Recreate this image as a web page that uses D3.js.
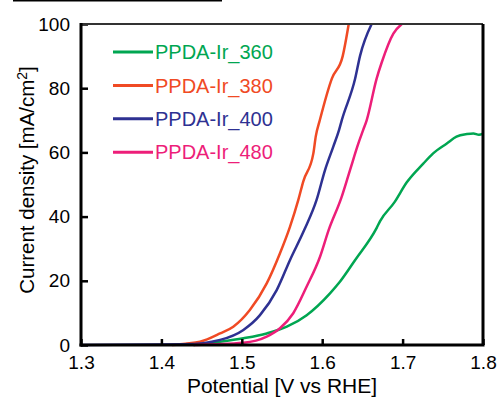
<!DOCTYPE html>
<html>
<head>
<meta charset="utf-8">
<script src="https://cdn.jsdelivr.net/npm/d3@7"></script>
<style>
  body { margin: 0; background: #fff; }
  svg text { font-family: Arial, "Liberation Sans", sans-serif; }
</style>
</head>
<body>
<div id="chart"></div>
<script>
// potential [V vs RHE] and current density [mA/cm2]
const v360 = [1.44, 1.473, 1.502, 1.531, 1.556, 1.5807, 1.6097, 1.622, 1.641, 1.6678, 1.672, 1.69, 1.705, 1.7257, 1.738, 1.755, 1.767, 1.78, 1.788, 1.795, 1.80];
const j360 = [0, 1.0, 2.1, 3.6, 5.7, 9.3, 16.1, 19.7, 26.5, 36.5, 38.6, 44.5, 50.6, 56.5, 59.7, 62.8, 64.9, 65.7, 65.9, 65.5, 65.8];

const v380 = [1.413, 1.43, 1.448, 1.473, 1.4894, 1.51, 1.531, 1.5475, 1.56, 1.5703, 1.5765, 1.589, 1.592, 1.597, 1.612, 1.6255, 1.633];
const j380 = [0, 0.4, 1.0, 3.6, 5.7, 10.9, 19.2, 28.6, 36.9, 45.2, 51, 59.7, 65, 70, 83, 90, 100];

const v400 = [1.30, 1.43, 1.473, 1.502, 1.5226, 1.5434, 1.56, 1.5776, 1.593, 1.6035, 1.6138, 1.621, 1.6243, 1.641, 1.647, 1.6615];
const j400 = [0, 0.2, 1.6, 4.7, 9.3, 17.1, 26.5, 35.8, 45.2, 54.5, 61.8, 67, 70, 83, 90, 100];

const v480 = [1.44, 1.502, 1.531, 1.5475, 1.564, 1.5807, 1.5973, 1.608, 1.624, 1.6346, 1.645, 1.651, 1.6553, 1.6677, 1.674, 1.6885, 1.699];
const j480 = [0, 0.7, 2.6, 5.2, 9.9, 18.2, 27.5, 35.8, 46, 54.5, 62.8, 67, 70, 83, 88, 97, 100];

const seriesNames = ["PPDA-Ir_360", "PPDA-Ir_380", "PPDA-Ir_400", "PPDA-Ir_480"];
const seriesColors = ["#00a651", "#f04a24", "#2e3192", "#ed1e79"];
const xTicks = [1.3, 1.4, 1.5, 1.6, 1.7, 1.8];
const yTicks = [0, 20, 40, 60, 80, 100];

const series = [
  { name: seriesNames[0], color: seriesColors[0], v: v360, j: j360 },
  { name: seriesNames[1], color: seriesColors[1], v: v380, j: j380 },
  { name: seriesNames[2], color: seriesColors[2], v: v400, j: j400 },
  { name: seriesNames[3], color: seriesColors[3], v: v480, j: j480 },
];

const W = 497, H = 400;
const margin = { top: 24, right: 14, bottom: 55, left: 81 };
const width = W - margin.left - margin.right;
const height = H - margin.top - margin.bottom;

const svg = d3.select("#chart").append("svg")
  .attr("width", W)
  .attr("height", H);

// cropped line at the very top of the figure
svg.append("line")
  .attr("x1", 13).attr("x2", 222)
  .attr("y1", 0.5).attr("y2", 0.5)
  .attr("stroke", "#000").attr("stroke-width", 2);

const g = svg.append("g").attr("transform", `translate(${margin.left},${margin.top})`);

const x = d3.scaleLinear().domain([1.3, 1.8]).range([0, width]);
const y = d3.scaleLinear().domain([0, 100]).range([height, 0]);

const line = d3.line()
  .x((d) => x(d[0]))
  .y((d) => y(d[1]))
  .curve(d3.curveMonotoneX);

series.forEach((s) => {
  g.append("path")
    .datum(s.v.map((v, i) => [v, s.j[i]]))
    .attr("fill", "none")
    .attr("stroke", s.color)
    .attr("stroke-width", 2.5)
    .attr("d", line);
});

// axes with inward ticks
const xAxis = g.append("g")
  .attr("transform", `translate(0,${height})`)
  .call(d3.axisBottom(x).tickValues(xTicks).tickFormat(d3.format(".1f")).tickSize(-6).tickPadding(11));
const yAxis = g.append("g")
  .call(d3.axisLeft(y).tickValues(yTicks).tickSize(-7).tickPadding(11));

[xAxis, yAxis].forEach((a) => {
  a.select(".domain").remove();
  a.selectAll(".tick line").attr("stroke", "#000").attr("stroke-width", 2.5);
  a.selectAll(".tick text")
    .attr("fill", "#000")
    .style("font-size", "19px");
});

// frame
g.append("line").attr("x1", 0).attr("x2", width).attr("y1", 0).attr("y2", 0)
  .attr("stroke", "#333").attr("stroke-width", 2);
g.append("line").attr("x1", width).attr("x2", width).attr("y1", 0).attr("y2", height)
  .attr("stroke", "#000").attr("stroke-width", 3);
g.append("line").attr("x1", 0).attr("x2", 0).attr("y1", -1).attr("y2", height + 1.5)
  .attr("stroke", "#000").attr("stroke-width", 3);
g.append("line").attr("x1", -1.5).attr("x2", width + 1.5).attr("y1", height).attr("y2", height)
  .attr("stroke", "#000").attr("stroke-width", 3);

// legend
const legend = g.append("g").attr("transform", "translate(32,28)");
series.forEach((s, i) => {
  const row = legend.append("g").attr("transform", `translate(0,${i * 33.4})`);
  row.append("line")
    .attr("x1", 0).attr("x2", 40)
    .attr("stroke", s.color).attr("stroke-width", 3);
  row.append("text")
    .attr("x", 42).attr("y", 0).attr("dy", "0.36em")
    .attr("fill", s.color)
    .style("font-size", "20px")
    .text(s.name);
});

// axis titles
svg.append("text")
  .attr("x", 282).attr("y", 393)
  .attr("text-anchor", "middle")
  .style("font-size", "21px")
  .text("Potential [V vs RHE]");

const yTitle = svg.append("text")
  .attr("transform", "translate(34,180) rotate(-90)")
  .attr("text-anchor", "middle")
  .style("font-size", "20.5px");
yTitle.append("tspan").text("Current density [mA/cm");
yTitle.append("tspan").attr("dy", "-0.5em").style("font-size", "14px").text("2");
yTitle.append("tspan").attr("dy", "0.33em").text("]");
</script>
</body>
</html>
